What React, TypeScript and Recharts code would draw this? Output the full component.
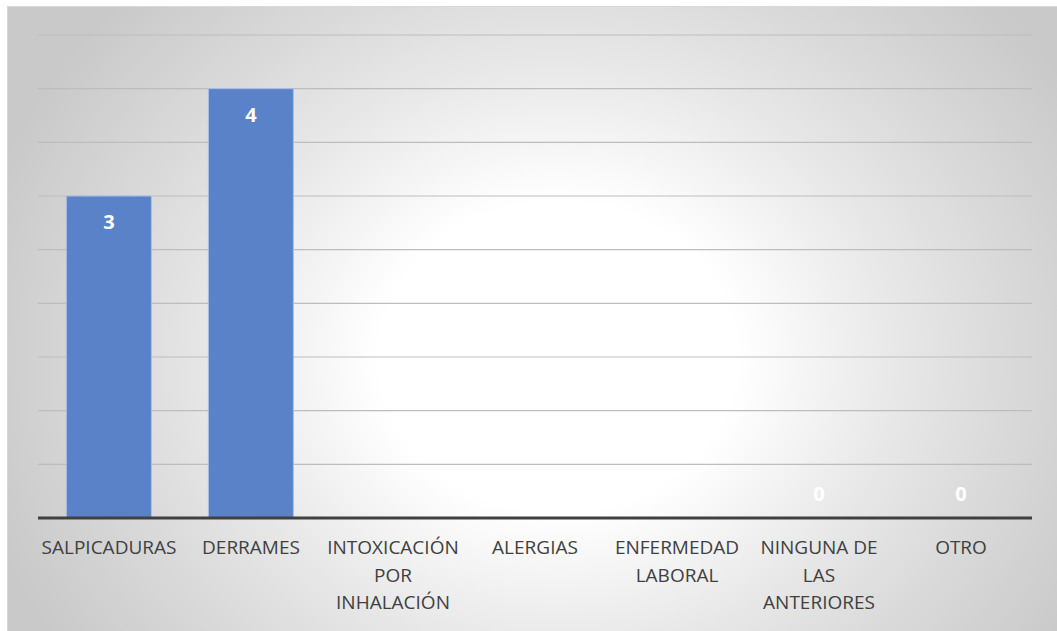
import React from "react";
import { ComposedChart, Bar, Line, XAxis, YAxis, CartesianGrid, LabelList } from "recharts";

// Categories (line breaks mark how each axis label wraps)
const categories: string[] = [
  "SALPICADURAS",
  "DERRAMES",
  "INTOXICACIÓN\nPOR\nINHALACIÓN",
  "ALERGIAS",
  "ENFERMEDAD\nLABORAL",
  "NINGUNA DE\nLAS\nANTERIORES",
  "OTRO",
];

// Counts per category (null = no value reported)
const counts: (number | null)[] = [3, 4, null, null, null, 0, 0];

// Value-axis gridline positions
const yTicks: number[] = [0, 0.5, 1, 1.5, 2, 2.5, 3, 3.5, 4, 4.5];

const data = categories.map((name, i) => ({ name, value: counts[i] }));

const FONT = "'Open Sans', 'Noto Sans', sans-serif";

const CategoryTick = (props: any) => {
  const { x, y, payload } = props;
  const lines: string[] = String(payload.value).split("\n");
  return (
    <g>
      {lines.map((line, i) => (
        <text
          key={i}
          x={x}
          y={y + 36 + i * 27.5}
          textAnchor="middle"
          fontFamily={FONT}
          fontSize={19}
          fill="#404040"
        >
          {line}
        </text>
      ))}
    </g>
  );
};

// Data labels: inside the top of each bar, or just above the axis for zero values
const ValueLabel = (props: any) => {
  const { x, y, value } = props;
  if (value === null || value === undefined || y == null) return null;
  const isZero = Number(value) === 0;
  return (
    <text
      x={x}
      y={isZero ? y - 17 : y + 33}
      textAnchor="middle"
      fontFamily={FONT}
      fontSize={20}
      fontWeight={700}
      fill="#ffffff"
    >
      {value}
    </text>
  );
};

export default function App() {
  return (
    <div
      style={{
        position: "absolute",
        left: 7,
        top: 6,
        width: 1050,
        height: 625,
        boxSizing: "border-box",
        borderTop: "1px solid #d9d9d9",
        borderLeft: "1px solid #d9d9d9",
        background:
          "radial-gradient(ellipse 600px 520px at 550px 350px, #ffffff 0%, #ffffff 30%, #e9e9e9 55%, #d9d9d9 76%, #c9c9c9 100%)",
      }}
    >
      <ComposedChart
        width={1049}
        height={624}
        data={data}
        margin={{ top: 28, right: 25, left: 30, bottom: 0 }}
        barCategoryGap="20%"
      >
        <CartesianGrid horizontal vertical={false} stroke="#bdbdbd" strokeWidth={1.2} />
        <YAxis hide domain={[0, 4.5]} ticks={yTicks} />
        <XAxis
          dataKey="name"
          interval={0}
          height={113}
          tickSize={0}
          tickMargin={0}
          tickLine={false}
          axisLine={{ stroke: "#404040", strokeWidth: 3 }}
          tick={<CategoryTick />}
        />
        <Bar
          dataKey="value"
          fill="#5a82c9"
          stroke="#a9bfe6"
          strokeWidth={1}
          isAnimationActive={false}
        />
        <Line
          dataKey="value"
          stroke="none"
          dot={false}
          activeDot={false}
          legendType="none"
          isAnimationActive={false}
        >
          <LabelList dataKey="value" content={<ValueLabel />} />
        </Line>
      </ComposedChart>
    </div>
  );
}
